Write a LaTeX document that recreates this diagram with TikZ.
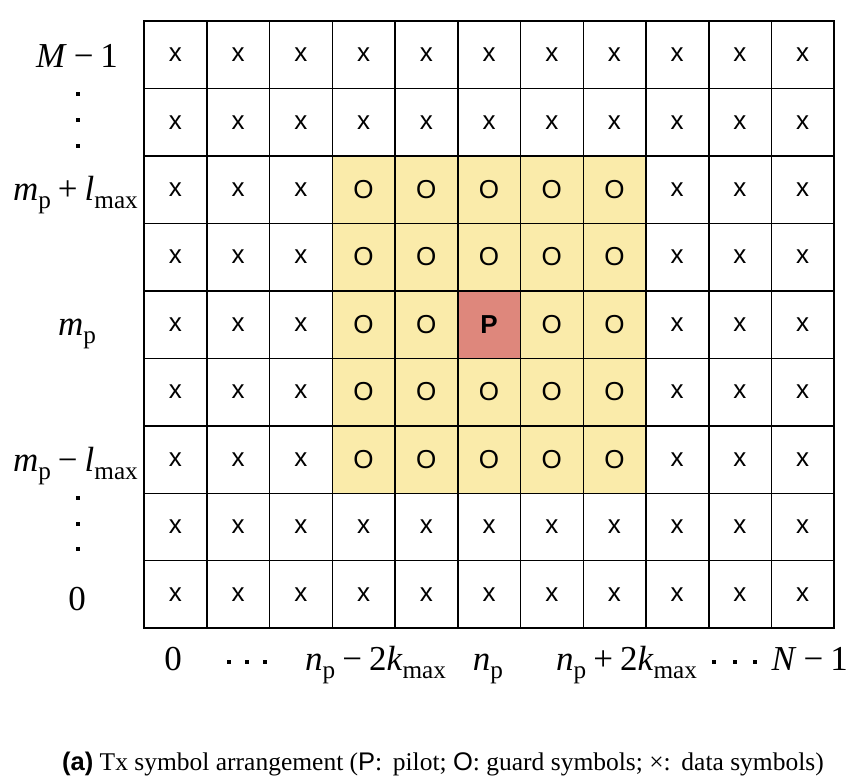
\documentclass[tikz,border=0pt]{standalone}
\usepackage{fontspec}
\setmainfont{Liberation Serif}
\newfontfamily\sansf{Liberation Sans}
\usepackage{graphicx}
\definecolor{guardfill}{HTML}{FAEBAA}
\definecolor{pilotfill}{HTML}{DE877C}
\newcommand\vv[1]{\textit{#1}}
\newcommand\lsub[1]{\raisebox{-0.24em}{\scalebox{0.72}{#1}}}
\newcommand\bop[1]{\hspace{0.2em}#1\hspace{0.2em}}
\begin{document}
\begin{tikzpicture}[x=1pt,y=-1pt,
  cell/.style={minimum width=62.73pt, minimum height=67.44pt, inner sep=0pt, font=\sansf\fontsize{26}{26}\selectfont},
  data/.style={cell, fill=white},
  guard/.style={cell, fill=guardfill},
  pilot/.style={cell, fill=pilotfill, font=\sansf\bfseries\fontsize{26}{26}\selectfont},
  gridline/.style={draw=black, line width=1.5pt},
  lbl/.style={font=\fontsize{35}{35}\selectfont, inner sep=0pt, anchor=base},
  vdot/.style={fill=black}]
\useasboundingbox (0,0) rectangle (851,781);
\foreach \r in {0,...,8}{\foreach \c in {0,...,10}{
  \pgfmathtruncatemacro\blk{and(and(\r>=2,\r<=6),and(\c>=3,\c<=7))}
  \pgfmathtruncatemacro\pil{and(\r==4,\c==5)}
  \pgfmathsetmacro\cx{144+62.73*(\c+0.5)}
  \pgfmathsetmacro\cy{21+67.44*(\r+0.5)}
  \ifnum\pil=1 \node[pilot] (cell-\r-\c) at (\cx,\cy) {P};
  \else\ifnum\blk=1 \node[guard] (cell-\r-\c) at (\cx,\cy) {O};
  \else \node[data] (cell-\r-\c) at (\cx,\cy) {x};\fi\fi
}}
% grid lines
\foreach \c in {0,...,9}{\draw[gridline] (cell-0-\c.north east) -- (cell-8-\c.south east);}
\foreach \r in {0,...,7}{\draw[gridline] (cell-\r-0.south west) -- (cell-\r-10.south east);}
\draw[gridline] (cell-0-0.north west) rectangle (cell-8-10.south east);
% row labels
\node[lbl] (lblM) at (77,68) {\vv{M}\bop{−}1};
\node[lbl, anchor=base east] (lblmpl) at (138,200) {\vv{m}\lsub{p}\bop{+}\vv{l}\lsub{max}};
\node[lbl] (lblmp) at (77,335) {\vv{m}\lsub{p}};
\node[lbl, anchor=base east] (lblmml) at (138,471) {\vv{m}\lsub{p}\bop{−}\vv{l}\lsub{max}};
\node[lbl] (lblzero) at (77,610) {0};
\foreach \yy in {94.5,120,145.7,498,524,549}{\fill[vdot] (76,\yy-2) rectangle (80,\yy+2);}
% column labels
\node[lbl] (clzero) at (173,670) {0};
\node[lbl, anchor=base west] (clnm) at (305,670) {\vv{n}\lsub{p}\bop{−}2\vv{k}\lsub{max}};
\node[lbl] (clnp) at (488,670) {\vv{n}\lsub{p}};
\node[lbl, anchor=base west] (clnpl) at (556,670) {\vv{n}\lsub{p}\bop{+}2\vv{k}\lsub{max}};
\node[lbl, anchor=base east] (clN) at (848,670) {\vv{N}\bop{−}1};
\foreach \xx in {229,247,265,714,735,755}{\fill[vdot] (\xx-2,660) rectangle (\xx+2,664);}
% caption
\node[anchor=base west, inner sep=0pt, font=\fontsize{25.5}{25.5}\selectfont] (caption) at (62,770)
  {{\sansf\bfseries (a)} Tx symbol arrangement ({\sansf P}:\ \,pilot; {\sansf O}: guard symbols; ×:\ \,data symbols)};
\end{tikzpicture}
\end{document}
